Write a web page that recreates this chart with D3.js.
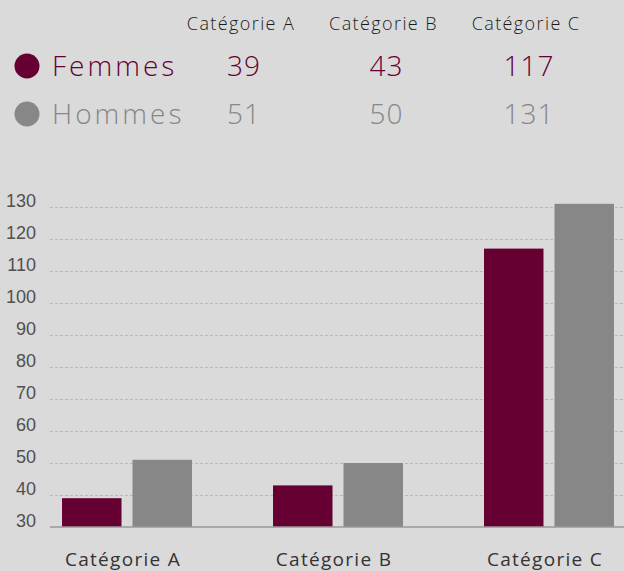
<!DOCTYPE html>
<html>
<head>
<meta charset="utf-8">
<script src="https://cdn.jsdelivr.net/npm/d3@7"></script>
<style>
  html, body { margin: 0; padding: 0; background: #dadada; }
  .chart svg { display: block; }
  .gotham { font-family: "Open Sans", "Lato", sans-serif; font-weight: 300; }
</style>
</head>
<body>
<div class="chart"></div>
<script>
// chart data
var categories = ["Catégorie A", "Catégorie B", "Catégorie C"];
var seriesNames = ["Femmes", "Hommes"];
var femmesValues = [39, 43, 117];
var hommesValues = [51, 50, 131];
var yTicks = [30, 40, 50, 60, 70, 80, 90, 100, 110, 120, 130];

var colors = { Femmes: "#660033", Hommes: "#878787" };

var svgWidth = 624;
var svgHeight = 571;

var svg = d3.select(".chart")
    .append("svg")
    .attr("width", svgWidth)
    .attr("height", svgHeight)
    .style("background", "#dadada");

var rows = seriesNames.map(function(name, i) {
    return { name: name, values: i === 0 ? femmesValues : hommesValues };
});

// ---- top table (legend + values) ----
var colX = d3.scalePoint()
    .domain(categories)
    .range([241, 526]);

var table = svg.append("g").attr("class", "gotham");

table.selectAll(".head")
    .data(categories)
    .enter()
    .append("text")
    .attr("class", "head")
    .attr("x", d => colX(d))
    .attr("y", 30)
    .attr("text-anchor", "middle")
    .style("font-size", "18px")
    .style("font-weight", 300)
    .style("letter-spacing", "1.4px")
    .style("fill", "#1a1a1a")
    .text(d => d);

var rowY = d3.scalePoint()
    .domain(seriesNames)
    .range([76, 124]);

var rowG = table.selectAll(".row")
    .data(rows)
    .enter()
    .append("g")
    .attr("class", "row")
    .attr("transform", d => `translate(0, ${rowY(d.name)})`);

rowG.append("circle")
    .attr("cx", 27)
    .attr("cy", -10)
    .attr("r", 12.5)
    .attr("fill", d => colors[d.name]);

rowG.append("text")
    .attr("x", 52)
    .attr("y", 0)
    .style("font-size", "28px")
    .style("letter-spacing", "3px")
    .style("fill", d => colors[d.name])
    .text(d => d.name);

rowG.selectAll(".val")
    .data(d => d.values.map((v, i) => ({ name: d.name, cat: categories[i], v: v })))
    .enter()
    .append("text")
    .attr("class", "val")
    .attr("x", d => colX(d.cat) + 3)
    .attr("y", 0)
    .attr("text-anchor", "middle")
    .style("font-size", "28px")
    .style("letter-spacing", "1px")
    .style("fill", d => colors[d.name])
    .text(d => d.v);

// ---- bar chart ----
var x0 = d3.scaleBand()
    .domain(categories)
    .range([50, 626])
    .paddingInner(0.384)
    .paddingOuter(0.057);

var x1 = d3.scaleBand()
    .domain(seriesNames)
    .range([0, x0.bandwidth()])
    .paddingInner(0.156);

var y = d3.scaleLinear()
    .domain([30, 130])
    .range([527, 207]);

// grid + y labels
var yAxis = d3.axisLeft(y)
    .tickValues(yTicks)
    .tickSize(-(624 - 50))
    .tickPadding(14);

var yG = svg.append("g")
    .attr("transform", "translate(50, 0)")
    .call(yAxis);

yG.select(".domain").remove();
yG.selectAll(".tick line")
    .attr("stroke", "#b8b8b8")
    .attr("stroke-dasharray", "3,2")
    .filter(d => d === 30).remove();
yG.selectAll(".tick text")
    .attr("y", -6)
    .style("font-family", "'Liberation Sans', Arial, sans-serif")
    .style("font-size", "18px")
    .style("fill", "#505050");

// bars
var groups = svg.selectAll(".cat")
    .data(categories)
    .enter()
    .append("g")
    .attr("class", "cat")
    .attr("transform", d => `translate(${x0(d)}, 0)`);

groups.selectAll("rect")
    .data((d, i) => rows.map(r => ({ name: r.name, v: r.values[i] })))
    .enter()
    .append("rect")
    .attr("x", d => x1(d.name))
    .attr("width", x1.bandwidth())
    .attr("y", d => y(d.v))
    .attr("height", d => y(30) - y(d.v))
    .attr("fill", d => colors[d.name]);

// baseline
svg.append("line")
    .attr("x1", 50)
    .attr("x2", 624)
    .attr("y1", y(30))
    .attr("y2", y(30))
    .attr("stroke", "#999")
    .attr("stroke-width", 1.5);

// category labels
var xAxis = d3.axisBottom(x0)
    .tickSize(0)
    .tickPadding(0);

var xG = svg.append("g")
    .attr("transform", `translate(0, ${y(30)})`)
    .call(xAxis);

xG.select(".domain").remove();
xG.selectAll(".tick text")
    .attr("y", 39)
    .attr("dy", 0)
    .attr("x", -4)
    .style("font-family", "'Open Sans', Lato, sans-serif")
    .style("font-size", "19px")
    .style("letter-spacing", "1.3px")
    .style("fill", "#333");
</script>
</body>
</html>
